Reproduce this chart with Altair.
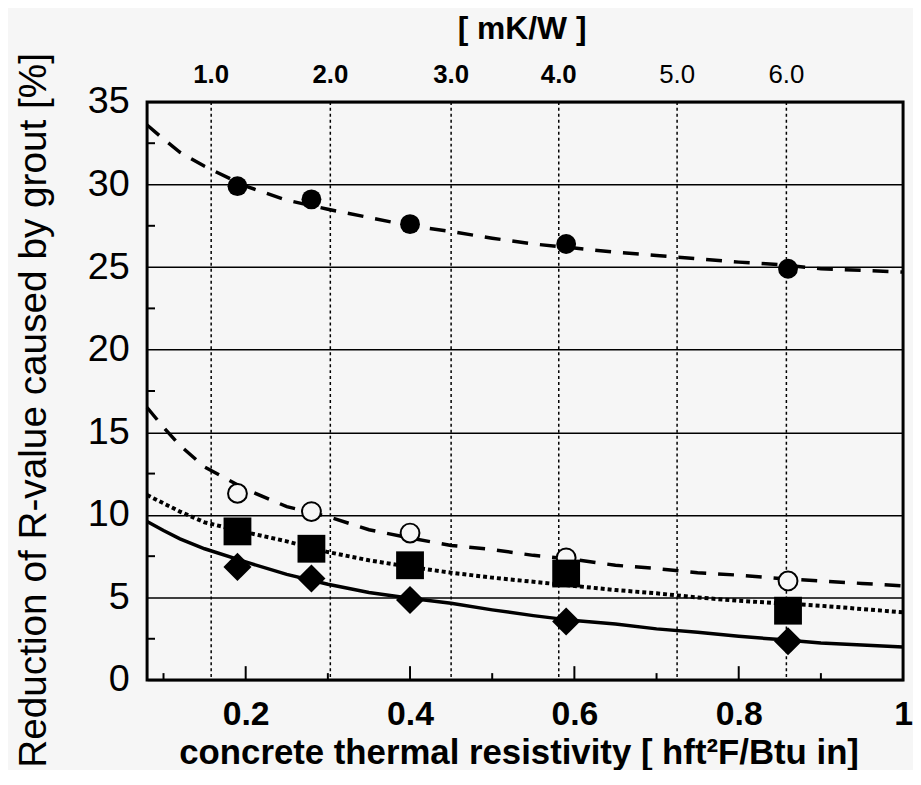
import altair as alt
import pandas as pd

# ---------------- data ----------------
x_markers = [0.19, 0.28, 0.40, 0.59, 0.86]
filled_circles = [29.9, 29.1, 27.6, 26.4, 24.9]
open_circles = [11.3, 10.2, 8.9, 7.4, 6.0]
filled_squares = [9.0, 7.95, 6.95, 6.45, 4.2]
filled_diamonds = [6.85, 6.15, 4.85, 3.55, 2.35]

curve_x = [0.08, 0.10, 0.12, 0.15, 0.20, 0.25, 0.30, 0.35, 0.40, 0.45, 0.50,
           0.55, 0.60, 0.65, 0.70, 0.75, 0.80, 0.85, 0.90, 0.95, 1.00]
curve_filled_circles = [33.6, 32.75, 31.95, 31.1, 29.9, 29.05, 28.5, 28.0, 27.5, 27.15, 26.75,
                        26.4, 26.15, 25.9, 25.7, 25.5, 25.3, 25.15, 24.9, 24.8, 24.7]
curve_open_circles = [16.5, 15.3, 14.2, 12.9, 11.55, 10.5, 9.9, 9.1, 8.6, 8.15, 7.9,
                      7.55, 7.3, 6.95, 6.75, 6.5, 6.35, 6.15, 6.0, 5.85, 5.7]
curve_squares = [11.2, 10.7, 10.2, 9.55, 8.95, 8.4, 7.75, 7.25, 6.85, 6.5, 6.2,
                 5.95, 5.7, 5.45, 5.25, 5.0, 4.8, 4.65, 4.5, 4.3, 4.1]
curve_diamonds = [9.6, 9.05, 8.55, 7.95, 7.15, 6.4, 5.8, 5.3, 4.95, 4.65, 4.25,
                  3.9, 3.6, 3.4, 3.1, 2.9, 2.65, 2.45, 2.25, 2.12, 2.0]

x_tick_values = [0.2, 0.4, 0.6, 0.8, 1.0]
x_minor_ticks = [0.1, 0.3, 0.5, 0.7, 0.9]
y_tick_values = [0, 5, 10, 15, 20, 25, 30, 35]
y_minor_ticks = [2.5, 7.5, 12.5, 17.5, 22.5, 27.5, 32.5]
mkw_positions = [0.158, 0.303, 0.450, 0.581, 0.725, 0.858]
mkw_labels = ["1.0", "2.0", "3.0", "4.0", "5.0", "6.0"]

x_title = "concrete thermal resistivity [ hft²F/Btu in]"
y_title = "Reduction of R-value caused by grout [%]"
top_title = "[ mK/W ]"

# ---------------- chart ----------------
W, H = 761, 582
BG = "#f6f6f6"
FONT = "Liberation Sans"

xs = alt.Scale(domain=[0.08, 1.0], nice=False, zero=False)
ys = alt.Scale(domain=[0, 35], nice=False, zero=False)

x_axis = alt.Axis(values=x_tick_values,
                  labelExpr="datum.value == 1 ? '1' : format(datum.value, '.1f')",
                  ticks=False, domain=False, grid=False, labelFlush=False, labelOverlap=False,
                  labelFontSize=34, labelFontWeight="bold", labelPadding=18,
                  titleFontSize=35, titleFontWeight="bold", titleX=374, titleY=73,
                  titleAlign="center", titleBaseline="middle")
y_axis = alt.Axis(values=y_tick_values, ticks=False, domain=False, grid=True,
                  gridColor="black", gridWidth=1.5, gridOpacity=1, labelOverlap=False,
                  labelFontSize=38, labelFontWeight="normal", labelPadding=18,
                  titleFontSize=39, titleFontWeight="normal", titleAngle=270,
                  titleX=-114, titleY=310, titleAlign="center", titleBaseline="middle")

X = alt.X("x:Q", scale=xs, axis=x_axis, title=x_title)
Y = alt.Y("y:Q", scale=ys, axis=y_axis, title=y_title)


def curve_df(vals):
    return pd.DataFrame({"x": curve_x, "y": vals})


def marker_df(vals):
    return pd.DataFrame({"x": x_markers, "y": vals})


mkw_df = pd.DataFrame({"x": mkw_positions, "label": mkw_labels})

vgrid = alt.Chart(mkw_df).mark_rule(color="black", strokeWidth=1.5, strokeDash=[3, 3]).encode(x=X)

major_ticks = alt.Chart(pd.DataFrame({"x": x_tick_values[:-1]})).mark_rule(
    color="black", strokeWidth=2).encode(x=X, y=alt.value(H), y2=alt.value(H - 14))
minor_ticks = alt.Chart(pd.DataFrame({"x": x_minor_ticks})).mark_rule(
    color="black", strokeWidth=2).encode(x=X, y=alt.value(H), y2=alt.value(H - 7))
y_ticks = alt.Chart(pd.DataFrame({"y": y_minor_ticks})).mark_rule(
    color="black", strokeWidth=2).encode(y=Y, x=alt.value(0), x2=alt.value(8))

top_bold = alt.Chart(mkw_df).transform_filter("datum.x < 0.7").mark_text(
    font=FONT, fontSize=26, fontWeight="bold", color="black", baseline="middle").encode(
    x=X, y=alt.value(-27), text="label:N")
top_light = alt.Chart(mkw_df).transform_filter("datum.x >= 0.7").mark_text(
    font=FONT, fontSize=26, fontWeight="normal", color="black", baseline="middle").encode(
    x=X, y=alt.value(-27), text="label:N")

line_fc = alt.Chart(curve_df(curve_filled_circles)).mark_line(
    color="black", strokeWidth=3.5, strokeDash=[16, 12]).encode(x=X, y=Y)
line_oc = alt.Chart(curve_df(curve_open_circles)).mark_line(
    color="black", strokeWidth=3.5, strokeDash=[16, 12]).encode(x=X, y=Y)
line_sq = alt.Chart(curve_df(curve_squares)).mark_line(
    color="black", strokeWidth=4, strokeDash=[4, 3]).encode(x=X, y=Y)
line_di = alt.Chart(curve_df(curve_diamonds)).mark_line(
    color="black", strokeWidth=3.5).encode(x=X, y=Y)

pts_fc = alt.Chart(marker_df(filled_circles)).mark_point(
    shape="circle", filled=True, color="black", size=400, opacity=1).encode(x=X, y=Y)
pts_oc = alt.Chart(marker_df(open_circles)).mark_point(
    shape="circle", filled=True, fill=BG, stroke="black", strokeWidth=2, size=360, opacity=1
).encode(x=X, y=Y)
pts_sq = alt.Chart(marker_df(filled_squares)).mark_point(
    shape="square", filled=True, color="black", size=784, opacity=1).encode(x=X, y=Y)
pts_di = alt.Chart(marker_df(filled_diamonds)).mark_point(
    shape="diamond", filled=True, color="black", size=800, opacity=1).encode(x=X, y=Y)

chart = alt.layer(
    vgrid, major_ticks, minor_ticks, y_ticks,
    line_fc, line_oc, line_sq, line_di,
    pts_fc, pts_oc, pts_sq, pts_di,
    top_bold, top_light,
).properties(
    width=W, height=H,
    autosize=alt.AutoSizeParams(type="none"),
    padding={"left": 140, "top": 92, "right": 10, "bottom": 88},
    background=BG,
    title=alt.TitleParams(top_title, font=FONT, fontSize=32, fontWeight="bold",
                          color="black", anchor="middle", offset=6, dx=-3),
).configure_view(
    stroke="black", strokeWidth=3, fill=BG
).configure_axis(
    labelFont=FONT, titleFont=FONT, labelColor="black", titleColor="black"
)

chart.save("out.html", embed_options={"renderer": "svg", "actions": False})
